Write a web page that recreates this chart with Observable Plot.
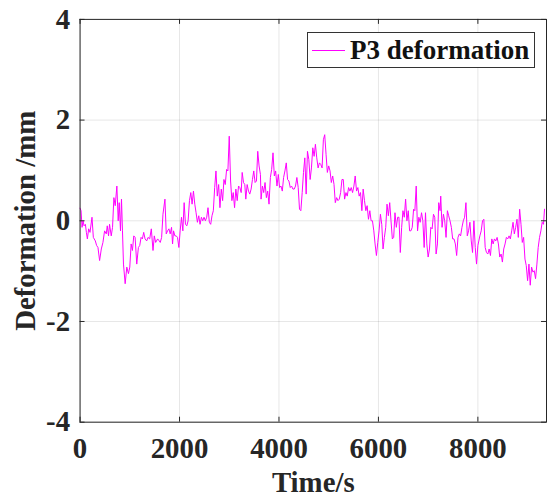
<!DOCTYPE html>
<html>
<head>
<meta charset="utf-8">
<script src="https://cdn.jsdelivr.net/npm/d3@7"></script>
<script src="https://cdn.jsdelivr.net/npm/@observablehq/plot@0.6"></script>
<style>
  html, body { margin: 0; padding: 0; background: #fff; overflow: hidden; }
  #wrap { position: relative; width: 547px; height: 500px; overflow: hidden; }
  #legend-box { position: absolute; left: 307px; top: 32px; width: 226px; height: 34px; border: 1px solid #333; background: #fff; }
  #legend-line { position: absolute; left: 312px; top: 50px; width: 33px; height: 1px; background: #ff00ff; }
  #legend-text { position: absolute; left: 350px; top: 37px; font: bold 27px "Liberation Serif", "Times New Roman", serif; line-height: 27px; color: #111; white-space: nowrap; }
</style>
</head>
<body>
<div id="wrap"></div>
<script>
const seriesName = "P3 deformation";
const xTicks = [0, 2000, 4000, 6000, 8000];
const yTicks = [-4, -2, 0, 2, 4];
const xLabel = "Time/s";
const yLabel = "Deformation /mm";

const time = [0, 20, 40, 60, 80, 107, 127, 147, 173, 200, 240, 267, 307, 333, 360, 393, 427, 460, 493, 527, 547, 573, 593, 627, 653, 680, 707, 740, 767, 787, 813, 833, 853, 873, 907, 940, 973, 1000, 1027, 1053, 1080, 1107, 1140, 1173, 1200, 1227, 1253, 1280, 1307, 1340, 1367, 1400, 1433, 1467, 1493, 1520, 1560, 1593, 1613, 1640, 1667, 1707, 1733, 1760, 1787, 1813, 1840, 1860, 1880, 1907, 1933, 1960, 1987, 2013, 2040, 2067, 2093, 2120, 2147, 2173, 2200, 2227, 2253, 2280, 2307, 2333, 2360, 2387, 2413, 2440, 2467, 2493, 2520, 2547, 2573, 2600, 2627, 2653, 2680, 2707, 2733, 2760, 2787, 2813, 2840, 2867, 2893, 2920, 2947, 2973, 3000, 3027, 3053, 3080, 3107, 3133, 3160, 3187, 3213, 3240, 3260, 3287, 3313, 3333, 3360, 3387, 3413, 3440, 3467, 3493, 3520, 3547, 3573, 3600, 3627, 3640, 3667, 3693, 3720, 3747, 3773, 3800, 3827, 3853, 3880, 3907, 3933, 3960, 3987, 4013, 4040, 4067, 4093, 4120, 4147, 4173, 4200, 4227, 4253, 4280, 4307, 4333, 4360, 4387, 4413, 4440, 4467, 4493, 4520, 4547, 4573, 4600, 4627, 4653, 4680, 4707, 4733, 4760, 4787, 4813, 4840, 4867, 4893, 4920, 4947, 4973, 5000, 5027, 5053, 5080, 5107, 5133, 5160, 5187, 5213, 5240, 5267, 5293, 5320, 5347, 5373, 5400, 5427, 5453, 5480, 5507, 5533, 5560, 5587, 5613, 5640, 5667, 5693, 5720, 5747, 5773, 5800, 5827, 5853, 5880, 5907, 5933, 5960, 5987, 6013, 6040, 6067, 6093, 6120, 6147, 6173, 6200, 6227, 6253, 6280, 6307, 6333, 6360, 6387, 6413, 6440, 6467, 6493, 6520, 6547, 6573, 6600, 6627, 6653, 6680, 6707, 6733, 6760, 6787, 6813, 6840, 6867, 6893, 6920, 6947, 6973, 7000, 7027, 7053, 7080, 7107, 7133, 7160, 7187, 7213, 7240, 7253, 7280, 7307, 7333, 7360, 7387, 7413, 7440, 7467, 7493, 7520, 7547, 7573, 7600, 7627, 7653, 7680, 7707, 7733, 7760, 7787, 7813, 7840, 7867, 7893, 7920, 7947, 7973, 8000, 8040, 8067, 8093, 8120, 8147, 8173, 8200, 8227, 8253, 8280, 8307, 8333, 8360, 8387, 8413, 8440, 8467, 8493, 8520, 8547, 8573, 8600, 8627, 8653, 8680, 8707, 8733, 8760, 8787, 8813, 8840, 8867, 8893, 8920, 8947, 8973, 9000, 9027, 9053, 9080, 9107, 9133, 9160, 9187, 9213, 9240, 9267, 9293, 9320, 9340];

const deformation = [0.25, 0.2, -0.13, 0, -0.10, -0.07, -0.23, -0.36, -0.16, -0.23, 0.07, -0.33, -0.40, -0.49, -0.53, -0.79, -0.56, -0.43, -0.20, -0.26, -0.10, -0.30, -0.07, -0.30, -0.13, 0.46, 0.30, 0.69, 0, 0.36, -0.20, 0.43, -0.20, -0.86, -1.25, -0.92, -1.05, -0.92, -0.46, -0.59, -0.30, -0.33, -0.86, -0.53, -0.49, -0.33, -0.36, -0.23, -0.36, -0.40, -0.33, -0.36, -0.16, -0.59, -0.30, -0.43, -0.36, -0.40, -0.43, -0.33, 0.13, 0.43, -0.26, -0.20, -0.16, -0.26, -0.13, -0.46, -0.20, -0.30, -0.30, -0.33, -0.53, -0.20, 0.07, -0.20, 0.36, -0.07, -0.10, 0, 0.40, 0.56, 0.33, 0.59, 0.33, 0.16, -0.03, 0.10, -0.07, 0.07, 0, 0.07, 0, 0.07, 0.26, -0.03, -0.07, 0.10, 0.20, 0.66, 0.99, 0.49, 0.72, 0.26, 0.63, 0.40, 0.82, 0.72, 1.02, 0.99, 1.68, 0.79, 0.40, 0.56, 0.26, 0.63, 0.40, 0.69, 0.66, 0.56, 0.96, 0.76, 0.72, 0.43, 0.72, 0.59, 0.53, 0.63, 0.82, 0.99, 0.76, 0.79, 1.38, 1.09, 0.92, 0.43, 0.69, 0.56, 0.76, 0.46, 0.59, 0.33, 0.86, 1.02, 1.35, 0.89, 0.99, 0.69, 0.92, 0.66, 0.69, 0.59, 0.86, 0.99, 1.15, 0.82, 0.79, 0.66, 0.69, 0.63, 0.63, 0.69, 0.86, 0.66, 0.23, 0.20, 0.56, 0.96, 1.25, 0.53, 1.38, 1.22, 0.82, 1.05, 1.45, 1.28, 1.52, 1.25, 1.05, 1.15, 1.12, 1.05, 1.61, 1.71, 1.32, 0.96, 1.09, 0.99, 0.76, 0.89, 0.72, 0.36, 0.46, 0.40, 0.43, 0.56, 0.82, 0.82, 0.43, 0.56, 0.49, 0.66, 0.59, 0.66, 0.56, 0.69, 0.89, 0.59, 0.66, 0.49, 0.56, 0.20, 0.63, 0.40, 0.20, 0.30, 0.03, 0.20, 0, 0, -0.20, -0.46, -0.69, -0.43, -0.20, 0.13, -0.07, -0.56, -0.33, -0.13, 0.33, 0.10, 0.36, 0, -0.36, -0.33, 0.16, -0.13, 0.07, 0.07, -0.63, -0.13, 0.20, 0.07, 0.43, 0, 0.20, -0.20, -0.20, -0.13, 0.23, 0.20, 0.69, -0.20, 0.07, -0.03, 0.16, 0, -0.53, 0.16, -0.46, -0.72, -0.56, -0.13, -0.16, 0.13, 0.07, -0.66, -0.46, 0.36, 0.20, 0.49, -0.13, 0.13, 0, -0.33, 0.20, 0.10, 0, -0.13, -0.36, -0.36, -0.46, -0.69, -0.33, -0.26, -0.30, -0.13, 0, 0.07, 0.36, -0.30, -0.20, -0.03, -0.40, -0.63, 0, -0.53, -0.86, -0.49, -0.30, -0.20, 0, 0.03, -0.53, -0.63, -0.66, -0.56, -0.69, -0.36, -0.46, -0.36, -0.40, -0.33, -0.46, -0.72, -0.66, -0.82, -0.56, -0.46, -0.33, -0.36, -0.30, -0.36, -0.20, -0.03, -0.26, -0.13, 0.03, -0.33, 0.23, -0.07, -0.43, -0.33, -0.76, -0.89, -1.19, -0.86, -1.28, -0.92, -1.02, -0.99, -1.15, -0.86, -0.53, -0.33, -0.20, -0.03, -0.07, 0.23];

const data = time.map((t, i) => ({t, v: deformation[i]}));

const W = 550, H = 500, mL = 80, mR = 1, mT = 19, mB = 76;
const fw = W - mL - mR, fh = H - mT - mB;
const ink = "#262626";
const fontFamily = "'Liberation Serif', 'Times New Roman', serif";

const chart = Plot.plot({
  width: W, height: H,
  marginLeft: mL, marginRight: mR, marginTop: mT, marginBottom: mB,
  x: {domain: [0, 9380]},
  y: {domain: [-4, 4]},
  style: {fontFamily, color: ink, background: "#fff", overflow: "visible"},
  marks: [
    Plot.gridX(xTicks, {stroke: "#000", strokeOpacity: 0.1, strokeWidth: 1}),
    Plot.gridY(yTicks, {stroke: "#000", strokeOpacity: 0.1, strokeWidth: 1}),
    Plot.line(data, {x: "t", y: "v", stroke: "#ff00ff", strokeWidth: 1}),
    Plot.frame({stroke: ink, strokeWidth: 1}),
    Plot.tickX(xTicks, {x: d => d, insetTop: fh - 5, stroke: ink}),
    Plot.tickX(xTicks, {x: d => d, insetBottom: fh - 5, stroke: ink}),
    Plot.tickY(yTicks, {y: d => d, insetRight: fw - 5, stroke: ink}),
    Plot.tickY(yTicks, {y: d => d, insetLeft: fw - 5, stroke: ink}),
    Plot.axisX(xTicks, {tickSize: 0, tickPadding: 15, fontSize: 29, fontWeight: "bold", fill: ink, tickFormat: d => String(d), label: null}),
    Plot.axisY(yTicks, {tickSize: 0, tickPadding: 10, fontSize: 29, fontWeight: "bold", fill: ink, tickFormat: d => String(d), label: null}),
    Plot.text([xLabel], {text: d => d, frameAnchor: "bottom", textAnchor: "middle", lineAnchor: "bottom", dx: 0, dy: 70, fontSize: 29, fontWeight: "bold", fill: ink}),
    Plot.text([yLabel], {text: d => d, frameAnchor: "left", textAnchor: "middle", lineAnchor: "bottom", rotate: -90, dx: -45, fontSize: 29, fontWeight: "bold", fill: ink})
  ]
});

const wrap = document.getElementById("wrap");
wrap.appendChild(chart);
const box = document.createElement("div"); box.id = "legend-box"; wrap.appendChild(box);
const ln = document.createElement("div"); ln.id = "legend-line"; wrap.appendChild(ln);
const tx = document.createElement("div"); tx.id = "legend-text"; tx.textContent = seriesName; wrap.appendChild(tx);
</script>
</body>
</html>
